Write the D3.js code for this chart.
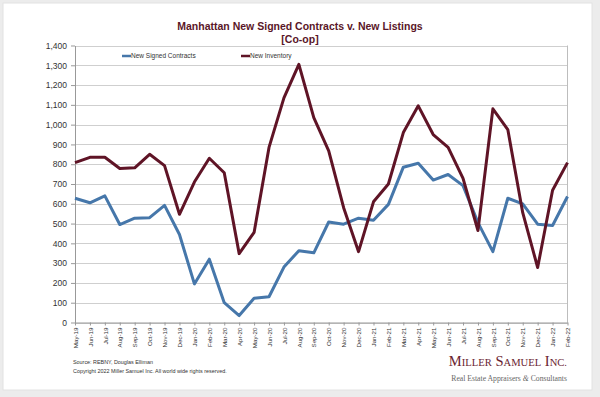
<!DOCTYPE html>
<html><head><meta charset="utf-8">
<script src="https://cdn.jsdelivr.net/npm/d3@7"></script>
<style>
html,body{margin:0;padding:0;background:#ececec;}
svg{display:block;}
</style></head>
<body>
<svg id="chart" width="600" height="397"></svg>
<script>
const months = ["May-19","Jun-19","Jul-19","Aug-19","Sep-19","Oct-19","Nov-19","Dec-19","Jan-20","Feb-20","Mar-20","Apr-20","May-20","Jun-20","Jul-20","Aug-20","Sep-20","Oct-20","Nov-20","Dec-20","Jan-21","Feb-21","Mar-21","Apr-21","May-21","Jun-21","Jul-21","Aug-21","Sep-21","Oct-21","Nov-21","Dec-21","Jan-22","Feb-22"];
const signedContracts = [628,605,640,495,527,530,592,445,195,320,100,35,123,130,280,363,352,508,497,527,517,597,785,805,720,748,692,505,358,628,600,497,490,637];
const newInventory = [808,835,835,778,782,850,793,547,710,830,757,348,455,885,1135,1305,1035,868,580,358,610,700,960,1095,950,885,728,465,1080,975,555,278,668,808];
const yTicks = [0,100,200,300,400,500,600,700,800,900,1000,1100,1200,1300,1400];
const seriesNames = ["New Signed Contracts","New Inventory"];
const titleLines = ["Manhattan New Signed Contracts v. New Listings","[Co-op]"];
const sourceLines = ["Source: REBNY, Douglas Elliman","Copyright 2022 Miller Samuel Inc.  All world wide rights reserved."];

const colors = {contracts:"#4677aa", inventory:"#5f1426", title:"#5a1628"};
const svg = d3.select("#chart");

// card
svg.append("rect").attr("x",3).attr("y",3).attr("width",589).attr("height",387)
  .attr("fill","#fff").attr("stroke","#e2e2e2").attr("stroke-width",1);

const m = {left:75, right:567.5, top:45.5, bottom:322.5};
const x = d3.scalePoint().domain(months).range([m.left, m.right]);
const y = d3.scaleLinear().domain([0,1400]).range([m.bottom, m.top]);

// gridlines
svg.append("g").selectAll("line").data(yTicks).join("line")
  .attr("x1",m.left).attr("x2",m.right)
  .attr("y1",d=>Math.round(y(d))+0.5).attr("y2",d=>Math.round(y(d))+0.5)
  .attr("stroke","#cfcfcf").attr("stroke-width",1);
// right border
svg.append("line").attr("x1",m.right).attr("x2",m.right).attr("y1",m.top).attr("y2",m.bottom)
  .attr("stroke","#bdbdbd");

// y axis
const yAxis = d3.axisLeft(y).tickValues(yTicks).tickSize(4).tickSizeOuter(0).tickFormat(d3.format(","));
const gy = svg.append("g").attr("transform",`translate(${m.left},0)`).call(yAxis);
gy.select(".domain").attr("stroke","#999");
gy.selectAll(".tick line").attr("stroke","#999");
gy.selectAll("text").attr("font-family","Liberation Sans, Arial, sans-serif").attr("font-size",8.5).attr("fill","#333").attr("dx",-1);

// x axis
const xAxis = d3.axisBottom(x).tickSize(3).tickSizeOuter(0);
const gx = svg.append("g").attr("transform",`translate(0,${m.bottom})`).call(xAxis);
gx.select(".domain").attr("stroke","#999");
gx.selectAll(".tick line").attr("stroke","#999");
gx.selectAll("text").attr("font-family","Liberation Sans, Arial, sans-serif").attr("font-size",6.2).attr("fill","#333")
  .attr("transform","rotate(-90)").attr("text-anchor","end").attr("x",-5).attr("y",0).attr("dy","0.35em");

// lines
const line = d3.line().x((d,i)=>x(months[i])).y(d=>y(d));
svg.append("path").datum(signedContracts).attr("d",line).attr("fill","none")
  .attr("stroke",colors.contracts).attr("stroke-width",3).attr("stroke-linejoin","round");
svg.append("path").datum(newInventory).attr("d",line).attr("fill","none")
  .attr("stroke",colors.inventory).attr("stroke-width",3).attr("stroke-linejoin","round");

// legend
const legend = [{name:seriesNames[0],color:colors.contracts,x:122},{name:seriesNames[1],color:colors.inventory,x:241}];
const lg = svg.append("g").selectAll("g").data(legend).join("g").attr("transform",d=>`translate(${d.x},56)`);
lg.append("line").attr("x1",0).attr("x2",9).attr("y1",0).attr("y2",0).attr("stroke",d=>d.color).attr("stroke-width",2.5);
lg.append("text").attr("x",9).attr("y",0).attr("dy","0.35em").text(d=>d.name)
  .attr("font-family","Liberation Sans, Arial, sans-serif").attr("font-size",6.5).attr("fill","#333");

// title
svg.append("g").selectAll("text").data(titleLines).join("text")
  .attr("x",300).attr("y",(d,i)=>30+i*13).attr("text-anchor","middle")
  .attr("font-family","Liberation Sans, Arial, sans-serif").attr("font-weight","bold").attr("font-size",10.5)
  .attr("fill",colors.title).text(d=>d);

// source
svg.append("g").selectAll("text").data(sourceLines).join("text")
  .attr("x",73).attr("y",(d,i)=>364+i*8.5)
  .attr("font-family","Liberation Sans, Arial, sans-serif").attr("font-size",5.4).attr("fill","#333").text(d=>d);

// logo
const logo = svg.append("text").attr("x",567).attr("y",366).attr("text-anchor","end")
  .attr("font-family","Liberation Serif, Times New Roman, serif").attr("fill","#6a2330");
const words = [["M","ILLER"],["S","AMUEL"],["I","NC."]];
words.forEach((w,i)=>{
  logo.append("tspan").attr("font-size",14.5).text((i>0?" ":"")+w[0]);
  logo.append("tspan").attr("font-size",10.6).text(w[1]);
});
const sub = svg.append("text").attr("x",567).attr("y",381).attr("text-anchor","end")
  .attr("font-family","Liberation Serif, Times New Roman, serif").attr("font-size",7.7).attr("fill","#666");
sub.append("tspan").text("Real Estate Appraisers ");
sub.append("tspan").attr("font-style","italic").text("&");
sub.append("tspan").text(" Consultants");
</script>
</body></html>
